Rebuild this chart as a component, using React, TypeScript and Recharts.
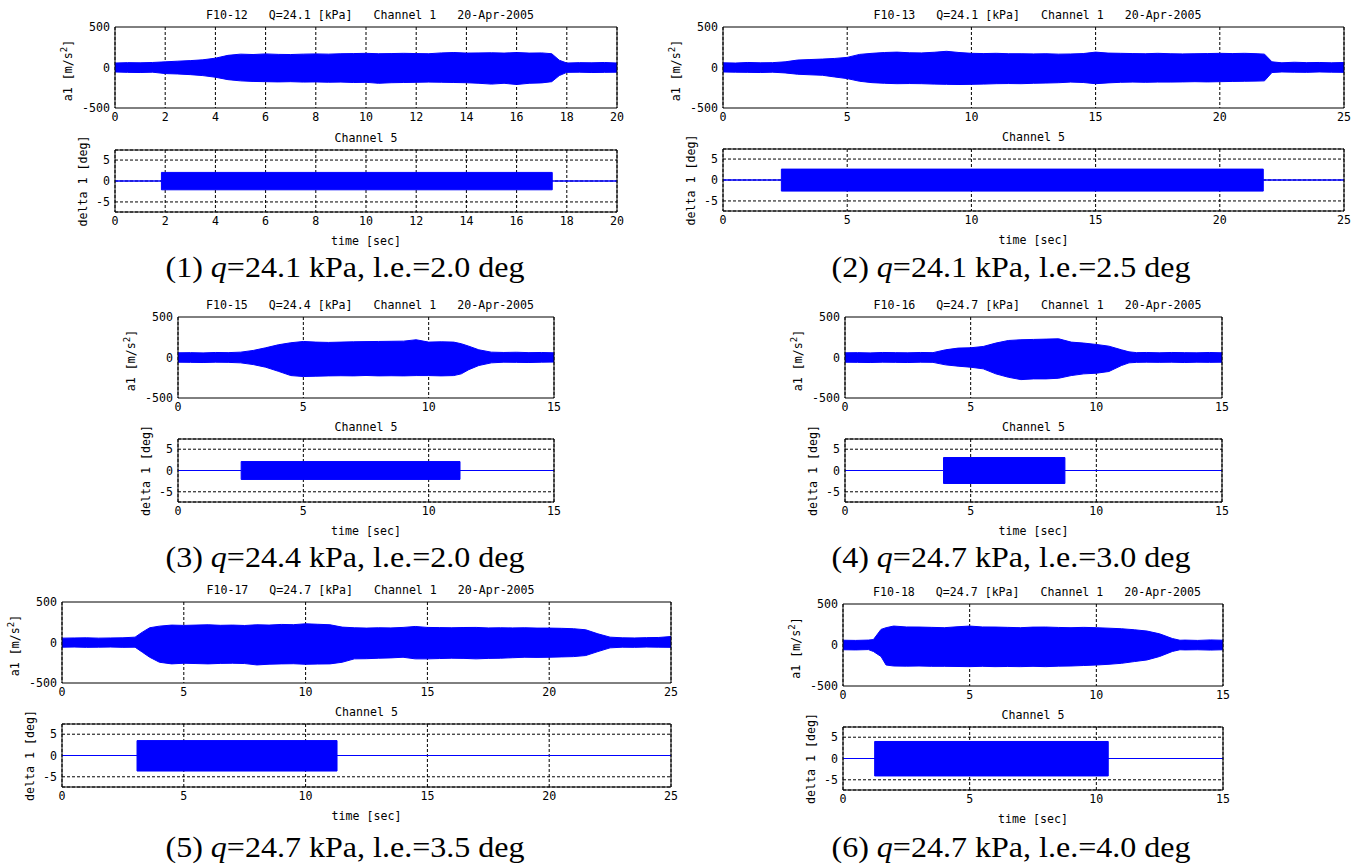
import React from 'react'
import { ComposedChart, Area, XAxis, YAxis, CartesianGrid, ReferenceArea } from 'recharts'

const BLUE = '#0000ff'
const MONO = '"DejaVu Sans Mono", monospace'
const SERIF = '"Liberation Serif", "Times New Roman", serif'

// run info
const runIds = ['F10-12', 'F10-13', 'F10-15', 'F10-16', 'F10-17', 'F10-18']
const dynPressure = [24.1, 24.1, 24.4, 24.7, 24.7, 24.7]
const leadingEdge = [2.0, 2.5, 2.0, 3.0, 3.5, 4.0]
const timeMax = [20, 25, 15, 15, 25, 15]

const ticks20 = [0, 2, 4, 6, 8, 10, 12, 14, 16, 18, 20]
const ticks25 = [0, 5, 10, 15, 20, 25]
const ticks15 = [0, 5, 10, 15]
const a1Ticks = [-500, 0, 500]
const deltaTicks = [-5, 0, 5]

// channel 1 (a1) envelope, upper / lower edge [m/s^2]
const f1012Time = [0, 0.5, 1, 1.5, 2, 2.5, 3, 3.5, 4, 4.5, 5, 5.5, 6, 6.5, 7, 7.5, 8, 8.5, 9, 9.5, 10, 10.5, 11, 11.5, 12, 12.5, 13, 13.5, 14, 14.5, 15, 15.5, 16, 16.5, 17, 17.4, 17.7, 18, 18.5, 19, 19.5, 20]
const f1012Upper = [55, 60, 58, 62, 70, 78, 85, 95, 115, 150, 165, 160, 168, 162, 160, 165, 168, 165, 170, 172, 175, 170, 172, 175, 172, 170, 180, 185, 178, 180, 182, 178, 185, 178, 180, 170, 90, 55, 60, 58, 62, 55]
const f1012Lower = [-55, -60, -62, -58, -75, -80, -88, -100, -120, -150, -165, -172, -175, -178, -175, -180, -178, -182, -180, -185, -183, -195, -188, -185, -183, -180, -182, -185, -188, -195, -205, -195, -210, -195, -190, -175, -100, -60, -58, -62, -60, -58]

const f1013Time = [0, 0.5, 1, 1.5, 2, 2.5, 3, 3.5, 4, 4.5, 5, 5.5, 6, 6.5, 7, 7.5, 8, 8.5, 9, 9.5, 10, 10.5, 11, 11.5, 12, 12.5, 13, 13.5, 14, 14.5, 15, 15.5, 16, 16.5, 17, 17.5, 18, 18.5, 19, 19.5, 20, 20.5, 21, 21.5, 21.8, 22.1, 22.5, 23, 23.5, 24, 24.5, 25]
const f1013Upper = [58, 55, 62, 58, 60, 70, 92, 98, 104, 112, 125, 162, 175, 185, 190, 182, 180, 188, 200, 185, 175, 172, 175, 170, 170, 168, 170, 165, 167, 172, 190, 178, 175, 172, 170, 175, 170, 168, 170, 172, 175, 172, 175, 170, 165, 70, 58, 65, 60, 62, 58, 62]
const f1013Lower = [-55, -58, -60, -62, -58, -67, -83, -90, -96, -117, -137, -170, -187, -195, -200, -198, -200, -205, -208, -210, -208, -205, -200, -198, -200, -195, -192, -188, -180, -185, -200, -190, -183, -180, -183, -180, -180, -178, -175, -178, -175, -172, -170, -168, -165, -62, -55, -58, -60, -55, -58, -60]

const f1015Time = [0, 0.5, 1, 1.5, 2, 2.5, 3, 3.5, 4, 4.5, 5, 5.5, 6, 6.5, 7, 7.5, 8, 8.5, 9, 9.5, 10, 10.5, 11, 11.3, 11.6, 12, 12.5, 13, 13.5, 14, 14.5, 15]
const f1015Upper = [58, 60, 57, 62, 60, 66, 87, 120, 157, 182, 198, 190, 186, 190, 194, 196, 198, 200, 202, 219, 190, 194, 190, 170, 140, 95, 66, 62, 65, 60, 62, 58]
const f1015Lower = [-58, -60, -62, -58, -60, -66, -87, -120, -170, -223, -235, -231, -227, -225, -227, -222, -227, -225, -227, -223, -223, -227, -223, -202, -150, -99, -66, -58, -60, -62, -58, -56]

const f1016Time = [0, 0.5, 1, 1.5, 2, 2.5, 3, 3.5, 4, 4.5, 5, 5.5, 6, 6.5, 7, 7.5, 8, 8.5, 9, 9.5, 10, 10.5, 11, 11.3, 11.6, 12, 12.5, 13, 13.5, 14, 14.5, 15]
const f1016Upper = [58, 60, 57, 62, 60, 58, 62, 60, 95, 116, 120, 136, 178, 210, 219, 223, 227, 231, 190, 178, 161, 140, 95, 70, 60, 62, 58, 62, 60, 58, 62, 58]
const f1016Lower = [-58, -60, -62, -58, -60, -62, -58, -60, -91, -107, -120, -140, -202, -244, -273, -264, -264, -256, -223, -202, -194, -173, -99, -66, -60, -58, -60, -58, -62, -58, -60, -58]

const f1017Time = [0, 0.5, 1, 1.5, 2, 2.5, 3, 3.3, 3.6, 4, 4.5, 5, 5.5, 6, 6.5, 7, 7.5, 8, 8.5, 9, 9.5, 10, 10.5, 11, 11.5, 12, 12.5, 13, 13.5, 14, 14.5, 15, 15.5, 16, 16.5, 17, 17.5, 18, 18.5, 19, 19.5, 20, 20.5, 21, 21.5, 22, 22.5, 23, 23.5, 24, 24.5, 25]
const f1017Upper = [54, 56, 58, 54, 56, 58, 66, 128, 182, 202, 215, 211, 215, 219, 212, 215, 210, 219, 215, 223, 220, 231, 225, 219, 190, 182, 178, 182, 180, 186, 198, 186, 184, 182, 185, 186, 180, 182, 180, 182, 178, 178, 175, 170, 157, 107, 66, 58, 56, 60, 62, 74]
const f1017Lower = [-58, -56, -60, -58, -56, -60, -58, -120, -182, -244, -264, -256, -260, -264, -258, -256, -260, -277, -268, -264, -262, -269, -266, -264, -244, -202, -200, -194, -190, -182, -202, -202, -198, -194, -196, -202, -196, -194, -188, -182, -184, -182, -178, -174, -161, -112, -66, -58, -60, -56, -58, -60]

const f1018Time = [0, 0.5, 1, 1.2, 1.5, 1.7, 2, 2.5, 3, 3.5, 4, 4.5, 5, 5.5, 6, 6.5, 7, 7.5, 8, 8.5, 9, 9.5, 10, 10.5, 11, 11.5, 12, 12.5, 13, 13.3, 13.5, 14, 14.5, 15]
const f1018Upper = [58, 56, 60, 66, 190, 211, 231, 220, 219, 215, 211, 222, 231, 220, 219, 215, 211, 218, 219, 214, 211, 215, 211, 205, 198, 186, 170, 136, 79, 58, 60, 56, 62, 58]
const f1018Lower = [-58, -60, -56, -79, -140, -244, -256, -258, -256, -260, -260, -262, -264, -260, -264, -262, -264, -260, -264, -258, -256, -250, -244, -235, -223, -202, -182, -140, -79, -58, -60, -58, -62, -58]

// channel 5 (delta 1) excitation block [sec] / [deg]
const deltaStart = [1.85, 2.35, 2.52, 3.92, 3.08, 1.25]
const deltaEnd = [17.42, 21.75, 11.25, 8.75, 11.29, 10.47]
const deltaUpper = [2.05, 2.6, 2.1, 3.05, 3.5, 4.0]
const deltaLower = [-2.1, -2.65, -2.1, -3.05, -3.65, -4.1]

const a1Time = [f1012Time, f1013Time, f1015Time, f1016Time, f1017Time, f1018Time]
const a1Upper = [f1012Upper, f1013Upper, f1015Upper, f1016Upper, f1017Upper, f1018Upper]
const a1Lower = [f1012Lower, f1013Lower, f1015Lower, f1016Lower, f1017Lower, f1018Lower]
const xTickSets = [ticks20, ticks25, ticks15, ticks15, ticks25, ticks15]

// page layout of the six panels (plot-area pixel boxes)
const layout = [
  { left: 115, width: 502, top: 27, height: 81, botTop: 150, botHeight: 62, capX: 345, capY: 277 },
  { left: 723, width: 621, top: 27, height: 81, botTop: 149, botHeight: 62, capX: 1011, capY: 277 },
  { left: 178, width: 376, top: 317, height: 81, botTop: 439, botHeight: 63, capX: 345, capY: 567 },
  { left: 845, width: 377, top: 317, height: 81, botTop: 439, botHeight: 63, capX: 1011, capY: 567 },
  { left: 62, width: 609, top: 602, height: 81, botTop: 724, botHeight: 63, capX: 345, capY: 857 },
  { left: 843, width: 380, top: 604, height: 82, botTop: 727, botHeight: 63, capX: 1011, capY: 857 },
]

const A1_DOMAIN: [number, number] = [-500, 500]
const DELTA_DOMAIN: [number, number] = [-7.4, 7.4]
const Y_AXIS_W = 40
const X_AXIS_H = 20
const PAD_TOP = 8

type Row = { t: number; band: [number, number] }

function a1Rows(i: number): Row[] {
  return a1Time[i].map((t, k) => ({ t, band: [a1Lower[i][k], a1Upper[i][k]] }))
}

function deltaRows(i: number): Row[] {
  const s = deltaStart[i]
  const e = deltaEnd[i]
  return [
    { t: 0, band: [0, 0] },
    { t: s, band: [0, 0] },
    { t: s, band: [deltaLower[i], deltaUpper[i]] },
    { t: e, band: [deltaLower[i], deltaUpper[i]] },
    { t: e, band: [0, 0] },
    { t: timeMax[i], band: [0, 0] },
  ]
}

const tickStyle = { fontSize: 11.6, fontFamily: MONO, fill: '#000' }

interface PlotProps {
  rows: Row[]
  left: number
  top: number
  width: number
  height: number
  xMax: number
  xTicks: number[]
  yDomain: [number, number]
  yTicks: number[]
  hGrid: boolean
}

function Plot({ rows, left, top, width, height, xMax, xTicks, yDomain, yTicks, hGrid }: PlotProps) {
  return (
    <div style={{ position: 'absolute', left: left - Y_AXIS_W, top: top - PAD_TOP }}>
      <ComposedChart
        width={width + Y_AXIS_W + 8}
        height={height + PAD_TOP + X_AXIS_H}
        data={rows}
        margin={{ top: PAD_TOP, right: 8, bottom: 0, left: 0 }}
      >
        <CartesianGrid stroke="#000" strokeDasharray="3 2" horizontal={hGrid} vertical />
        <XAxis
          dataKey="t"
          type="number"
          domain={[0, xMax]}
          ticks={xTicks}
          allowDataOverflow
          height={X_AXIS_H}
          axisLine={false}
          tickLine={false}
          tickSize={3}
          tickMargin={2}
          tick={tickStyle}
          interval={0}
        />
        <YAxis
          type="number"
          domain={yDomain}
          ticks={yTicks}
          allowDataOverflow
          width={Y_AXIS_W}
          axisLine={false}
          tickLine={false}
          tickSize={3}
          tickMargin={2}
          tick={tickStyle}
          interval={0}
        />
        <Area
          dataKey="band"
          type="linear"
          stroke={BLUE}
          strokeWidth={1}
          fill={BLUE}
          fillOpacity={1}
          isAnimationActive={false}
          dot={false}
          activeDot={false}
        />
        <ReferenceArea x1={0} x2={xMax} y1={yDomain[0]} y2={yDomain[1]} fill="none" stroke="#000" strokeWidth={1} />
      </ComposedChart>
    </div>
  )
}

export default function App() {
  return (
    <div style={{ position: 'absolute', left: 0, top: 0, width: 1364, height: 866, background: '#fff' }}>
      {layout.map((p, i) => (
        <React.Fragment key={runIds[i]}>
          <Plot
            rows={a1Rows(i)}
            left={p.left}
            top={p.top}
            width={p.width}
            height={p.height}
            xMax={timeMax[i]}
            xTicks={xTickSets[i]}
            yDomain={A1_DOMAIN}
            yTicks={a1Ticks}
            hGrid={false}
          />
          <Plot
            rows={deltaRows(i)}
            left={p.left}
            top={p.botTop}
            width={p.width}
            height={p.botHeight}
            xMax={timeMax[i]}
            xTicks={xTickSets[i]}
            yDomain={DELTA_DOMAIN}
            yTicks={deltaTicks}
            hGrid
          />
        </React.Fragment>
      ))}
      <svg width={1364} height={866} style={{ position: 'absolute', left: 0, top: 0, pointerEvents: 'none' }}>
        {layout.map((p, i) => {
          const cx = p.left + p.width / 2
          const a1Y = p.top + p.height / 2 + 3
          const dY = p.botTop + p.botHeight / 2
          return (
            <g key={runIds[i]} fontFamily={MONO} fontSize={11.6} fill="#000">
              <text x={cx + 4} y={p.top - 8} textAnchor="middle" style={{ whiteSpace: 'pre' }}>
                {`${runIds[i]}   Q=${dynPressure[i].toFixed(1)} [kPa]   Channel 1   20-Apr-2005`}
              </text>
              <text x={cx} y={p.botTop - 8} textAnchor="middle">Channel 5</text>
              <text x={cx} y={p.botTop + p.botHeight + 33} textAnchor="middle">time [sec]</text>
              <text transform={`translate(${p.left - 43},${a1Y}) rotate(-90)`} textAnchor="middle">
                a1 [m/s<tspan dy={-5} fontSize={9}>2</tspan><tspan dy={5}>]</tspan>
              </text>
              <text transform={`translate(${p.left - 28},${dY}) rotate(-90)`} textAnchor="middle">
                delta 1 [deg]
              </text>
              <text
                x={p.capX}
                y={p.capY}
                textAnchor="middle"
                fontFamily={SERIF}
                fontSize={29}
                textLength={359}
                lengthAdjust="spacingAndGlyphs"
              >
                {`(${i + 1}) `}
                <tspan fontStyle="italic">q</tspan>
                {`=${dynPressure[i].toFixed(1)} kPa, l.e.=${leadingEdge[i].toFixed(1)} deg`}
              </text>
            </g>
          )
        })}
      </svg>
    </div>
  )
}
